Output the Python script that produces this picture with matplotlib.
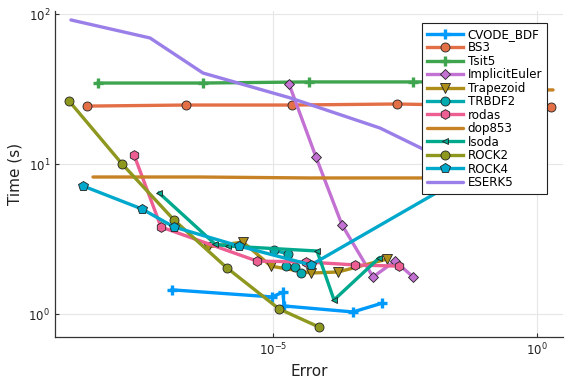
import matplotlib
matplotlib.use("Agg")
import matplotlib.pyplot as plt
from matplotlib.ticker import NullLocator, FixedLocator

# ---- data (Error, Time) ----
cvode_x = [1.22e-7, 9.57e-6, 1.55e-5, 1.61e-5, 3.27e-4, 1.16e-3]
cvode_y = [1.46, 1.31, 1.41, 1.14, 1.04, 1.19]

bs3_x = [3.00e-9, 2.25e-7, 2.29e-5, 2.23e-3, 1.84]
bs3_y = [24.5, 24.9, 24.9, 25.3, 24.2]

tsit5_x = [4.85e-9, 4.72e-7, 4.81e-5, 4.49e-3, 0.436]
tsit5_y = [34.9, 34.9, 35.5, 35.5, 35.5]

ie_x = [2.01e-5, 6.52e-5, 2.03e-4, 7.83e-4, 2.05e-3, 4.49e-3]
ie_y = [34.4, 11.2, 3.95, 1.78, 2.27, 1.78]

trap_x = [5.87e-7, 2.70e-6, 9.16e-6, 5.25e-5, 1.70e-4, 1.44e-3]
trap_y = [2.82, 3.04, 2.10, 1.89, 1.92, 2.34]

trbdf2_x = [1.04e-5, 1.92e-5, 1.76e-5, 2.61e-5, 3.39e-5]
trbdf2_y = [2.69, 2.53, 2.10, 2.07, 1.89]

rodas_x = [2.33e-8, 7.57e-8, 4.98e-6, 4.22e-5, 3.57e-4, 2.43e-3]
rodas_y = [11.6, 3.83, 2.27, 2.24, 2.14, 2.10]

dop853_x = [3.90e-9, 4.14e-7, 4.81e-5, 9.4e-3, 0.476, 2.01]
dop853_y = [8.25, 8.25, 8.13, 8.13, 31.4, 31.4]

lsoda_x = [6.93e-8, 7.97e-7, 1.41e-6, 6.81e-5, 1.43e-4, 1.02e-3]
lsoda_y = [6.46, 2.95, 2.86, 2.65, 1.25, 2.38]

rock2_x = [1.37e-9, 1.38e-8, 1.33e-7, 1.35e-6, 1.30e-5, 7.43e-5]
rock2_y = [26.5, 10.1, 4.27, 2.04, 1.09, 0.825]

rock4_x = [2.52e-9, 3.30e-8, 1.33e-7, 2.27e-6, 5.25e-5, 0.129]
rock4_y = [7.19, 5.05, 3.83, 2.86, 2.14, 10.4]

eserk5_x = [1.49e-9, 4.68e-8, 4.72e-7, 2.10e-5, 1.06e-3, 0.0538]
eserk5_y = [91.9, 69.7, 40.7, 27.8, 17.5, 8.91]

names = ["CVODE_BDF", "BS3", "Tsit5", "ImplicitEuler", "Trapezoid", "TRBDF2",
         "rodas", "dop853", "lsoda", "ROCK2", "ROCK4", "ESERK5"]
colors = ["#009AFA", "#E36F47", "#3EA44E", "#C371D2", "#AC8E18", "#00AAAE",
          "#ED5E93", "#C68225", "#00A98D", "#8E971E", "#00A8CB", "#9B7FE9"]
markers = ["P", "o", "P", "D", "v", "o", "h", None, "<", "o", "p", None]
msizes = [6.5, 6.5, 6.5, 5.0, 6.5, 6.5, 7.0, 0, 4.0, 6.5, 7.0, 0]

series = [(cvode_x, cvode_y), (bs3_x, bs3_y), (tsit5_x, tsit5_y), (ie_x, ie_y),
          (trap_x, trap_y), (trbdf2_x, trbdf2_y), (rodas_x, rodas_y),
          (dop853_x, dop853_y), (lsoda_x, lsoda_y), (rock2_x, rock2_y),
          (rock4_x, rock4_y), (eserk5_x, eserk5_y)]

fig = plt.figure(figsize=(5.76, 3.84), dpi=100)
ax = fig.add_axes([55/576, 1-336.7/384, (563-55)/576, (336.7-11)/384])

for (x, y), n, c, m, ms in zip(series, names, colors, markers, msizes):
    if m is None:
        ax.plot(x, y, color=c, lw=2.4, label=n, solid_capstyle="round")
    elif m == "P":
        ax.plot(x, y, color=c, lw=2.4, label=n, marker="+", ms=ms,
                mew=2.4, mec=c)
    else:
        ax.plot(x, y, color=c, lw=2.4, label=n, marker=m, ms=ms,
                mfc=c, mec="#222222", mew=0.6)

ax.set_xscale("log")
ax.set_yscale("log")
ax.set_xlim(10**-9.129, 10**0.492)
ax.set_ylim(10**-0.148, 10**2.023)

ax.xaxis.set_major_locator(FixedLocator([1e-5, 1e0]))
ax.yaxis.set_major_locator(FixedLocator([1e0, 1e1, 1e2]))
ax.xaxis.set_minor_locator(NullLocator())
ax.yaxis.set_minor_locator(NullLocator())
ax.set_xticklabels([r"$10^{-5}$", r"$10^{0}$"])
ax.set_yticklabels([r"$10^{0}$", r"$10^{1}$", r"$10^{2}$"])

ax.grid(True, color="#e6e6e6", lw=0.8)
ax.set_axisbelow(True)
for s in ["top", "right"]:
    ax.spines[s].set_visible(False)
for s in ["left", "bottom"]:
    ax.spines[s].set_color("#333333")
    ax.spines[s].set_linewidth(0.9)
ax.tick_params(direction="in", length=3, width=0.8, color="#333333",
               labelsize=8.5, labelcolor="#222222")

ax.set_xlabel("Error", fontsize=11, color="#222222")
ax.set_ylabel("Time (s)", fontsize=11, color="#222222")

leg = ax.legend(loc="upper right", bbox_to_anchor=((547-55)/508, (336.7-23)/325.7),
                fontsize=8.6, frameon=True, fancybox=False, borderpad=0.4,
                labelspacing=0.04, handlelength=3.0, handletextpad=0.4,
                borderaxespad=0.0)
leg.get_frame().set_edgecolor("#222222")
leg.get_frame().set_linewidth(0.8)
leg.get_frame().set_alpha(1.0)

fig.savefig("out.png", dpi=100)
